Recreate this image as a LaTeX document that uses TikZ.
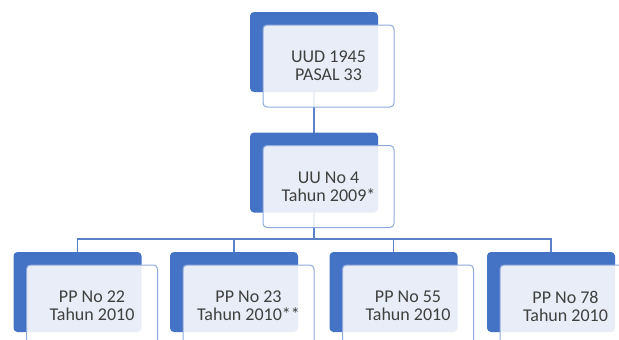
\documentclass[tikz,border=0pt]{standalone}
\usepackage{fontspec}
\setmainfont{Carlito}
\definecolor{sablue}{RGB}{68,114,196}
\definecolor{saedge}{RGB}{143,170,220}
\definecolor{saline}{RGB}{91,130,200}
\definecolor{satext}{RGB}{64,64,64}
\begin{document}
\begin{tikzpicture}[x=1pt,y=-1pt,
  backbox/.style={draw=none,fill=sablue,rounded corners=4pt,minimum width=128pt,minimum height=80pt,inner sep=0pt},
  frontbox/.style={draw=saedge,line width=1pt,fill=white,fill opacity=0.88,text opacity=1,rounded corners=4pt,minimum width=131pt,minimum height=82pt,inner sep=0pt,align=center,text=satext,font=\fontsize{18}{18}\selectfont},
  conn/.style={draw=saline,line width=1.2pt}]
\clip (0,0) rectangle (619,340);
\fill[white] (0,0) rectangle (619,340);
% back boxes positions (coordinates only, for connectors)
\coordinate (p0) at (314,52);
\coordinate (p1) at (314,172.5);
\coordinate (p2) at (77.5,292);
\coordinate (p3) at (234,292);
\coordinate (p4) at (393.5,292);
\coordinate (p5) at (551,292);
\coordinate (busy) at (0,239);
% connectors
\draw[conn] (p0) -- (p1);
\foreach \c in {p2,p3,p4,p5}{
  \draw[conn] (p1) -- (p1 |- busy) -| (\c);
}
% boxes
\node[backbox] (b0) at (p0) {};
\node[frontbox] (t0) at ([shift={(14.5,14)}]p0) {UUD 1945\\PASAL 33};
\node[backbox] (b1) at (p1) {};
\node[frontbox] (t1) at ([shift={(14.5,14)}]p1) {UU No 4\\Tahun 2009*};
\node[backbox] (b2) at (p2) {};
\node[frontbox] (t2) at ([shift={(14.5,14)}]p2) {PP No 22\\Tahun 2010};
\node[backbox] (b3) at (p3) {};
\node[frontbox] (t3) at ([shift={(14.5,14)}]p3) {PP No 23\\Tahun 2010**};
\node[backbox] (b4) at (p4) {};
\node[frontbox] (t4) at ([shift={(14.5,14)}]p4) {PP No 55\\Tahun 2010};
\node[backbox] (b5) at (p5) {};
\node[frontbox] (t5) at ([shift={(14.5,14)}]p5) {PP No 78\\Tahun 2010};
\end{tikzpicture}
\end{document}
